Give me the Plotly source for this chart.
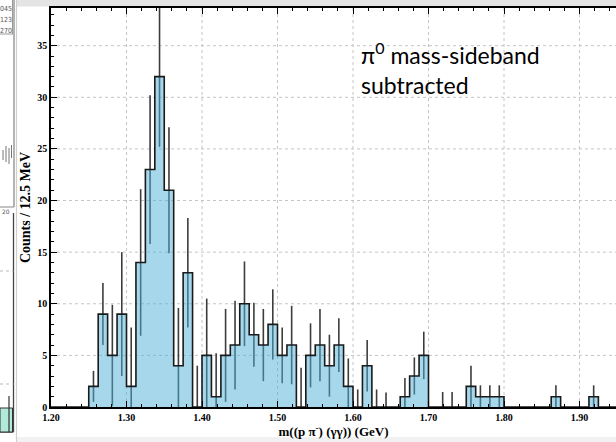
import plotly.graph_objects as go

# ---------------- data ----------------
bin_start = 1.20
bin_width = 0.0125
counts = [0, 0, 0, 0, 2, 9, 5, 9, 2, 14,
          23, 32, 21, 4, 13, 0, 5, 1, 5, 6,
          10, 7, 6, 8, 5, 6, 0, 5, 6, 4,
          6, 2, 0, 4, 0, 0, 0, 1, 3, 5,
          0, 0, 0, 0, 2, 1, 1, 1, 0, 0,
          0, 0, 0, 1, 0, 0, 0, 1, 0, 0]
errors = [0, 0, 0, 0, 1.5, 3.0, 4.9, 6.0, 5.7, 7.1,
          7.2, 6.8, 6.1, 5.6, 5.3, 4.0, 5.5, 4.2, 4.5, 4.3,
          4.1, 3.1, 3.5, 3.4, 2.7, 3.8, 3.8, 3.1, 3.5, 3.0,
          2.6, 2.7, 1.7, 2.5, 1.7, 1.4, 0, 1.8, 1.8, 2.3,
          0, 1.45, 1.45, 0, 2.0, 1.1, 1.1, 1.1, 0, 0,
          0, 0, 0, 1.1, 0, 0, 0, 1.1, 0, 0]
x_tick_vals = [1.2, 1.3, 1.4, 1.5, 1.6, 1.7, 1.8, 1.9]
x_tick_text = ["1.20", "1.30", "1.40", "1.50", "1.60", "1.70", "1.80", "1.90"]
y_tick_vals = [0, 5, 10, 15, 20, 25, 30, 35]
stats_text = ["045", "123", "270"]

n = len(counts)
edges = [bin_start + i * bin_width for i in range(n + 1)]
centers = [bin_start + (i + 0.5) * bin_width for i in range(n)]
step_y = counts + [counts[-1]]

# ---------------- geometry helpers (pixel -> paper) ----------------
W, H = 616, 442
ML, MR, MT, MB = 51, 0, 8, 35
PW, PH = W - ML - MR, H - MT - MB


def px(p):
    return (p - ML) / PW


def py(q):
    return (H - MB - q) / PH


serif_b = dict(family="Liberation Serif", color="black", weight="bold")
GRID = dict(color="#c4c4c4", width=1, dash="dot")

fig = go.Figure()

# error bars (drawn first so the translucent fill tints them)
fig.add_trace(go.Scatter(
    x=centers, y=counts, mode="markers",
    marker=dict(size=1, color="rgba(0,0,0,0)"),
    error_y=dict(type="data", array=errors, visible=True,
                 color="#3c3c3c", thickness=1.6, width=0),
    hoverinfo="skip", showlegend=False))

# filled histogram
fig.add_trace(go.Scatter(
    x=edges, y=step_y, mode="lines", line_shape="hv",
    line=dict(width=0, color="rgba(0,0,0,0)"),
    fill="tozeroy", fillcolor="rgba(77,175,215,0.5)",
    hoverinfo="skip", showlegend=False))

# histogram outline
fig.add_trace(go.Scatter(
    x=edges, y=step_y, mode="lines", line_shape="hv",
    line=dict(width=1.6, color="#1a1a1a"),
    hoverinfo="skip", showlegend=False))

shapes = []
# dotted grid at major ticks only
for xv in x_tick_vals[1:]:
    shapes.append(dict(type="line", xref="x", yref="paper", x0=xv, x1=xv,
                       y0=0, y1=1, line=GRID, layer="below"))
for yv in y_tick_vals[1:]:
    shapes.append(dict(type="line", xref="paper", yref="y", x0=0, x1=1,
                       y0=yv, y1=yv, line=GRID, layer="below"))
# top grey band of the slide window
shapes.append(dict(type="rect", xref="paper", yref="paper",
                   x0=px(17), x1=px(616), y0=py(0), y1=py(6.5),
                   fillcolor="#e4e4e4", line=dict(width=0), layer="below"))
# bottom faint band
shapes.append(dict(type="rect", xref="paper", yref="paper",
                   x0=px(17), x1=px(616), y0=py(437), y1=py(442),
                   fillcolor="#f1f1f1", line=dict(width=0), layer="below"))
# separator between panels
shapes.append(dict(type="line", xref="paper", yref="paper",
                   x0=px(16.5), x1=px(16.5), y0=py(0), y1=py(442),
                   line=dict(color="#cfcfcf", width=1.2)))
# left-top panel frame and stats box
shapes.append(dict(type="line", xref="paper", yref="paper",
                   x0=px(14), x1=px(14), y0=py(0), y1=py(207),
                   line=dict(color="#9a9a9a", width=1.5)))
shapes.append(dict(type="line", xref="paper", yref="paper",
                   x0=px(0), x1=px(14), y0=py(207), y1=py(207),
                   line=dict(color="#9a9a9a", width=1.2)))
shapes.append(dict(type="line", xref="paper", yref="paper",
                   x0=px(0), x1=px(13), y0=py(34), y1=py(34),
                   line=dict(color="#9a9a9a", width=1)))
shapes.append(dict(type="line", xref="paper", yref="paper",
                   x0=px(12.5), x1=px(12.5), y0=py(0), y1=py(34),
                   line=dict(color="#9a9a9a", width=1)))
# faint data marks inside left-top panel
for xm, y0m, y1m in [(3, 150, 160), (6, 146, 162), (9, 148, 164), (11.5, 145, 158)]:
    shapes.append(dict(type="line", xref="paper", yref="paper",
                       x0=px(xm), x1=px(xm), y0=py(y0m), y1=py(y1m),
                       line=dict(color="#777777", width=1)))
# left-bottom panel frame
shapes.append(dict(type="line", xref="paper", yref="paper",
                   x0=px(13.5), x1=px(13.5), y0=py(213), y1=py(432),
                   line=dict(color="#444444", width=1.3)))
shapes.append(dict(type="line", xref="paper", yref="paper",
                   x0=px(0), x1=px(13.5), y0=py(432), y1=py(432),
                   line=dict(color="#444444", width=1.3)))
for gy in [271, 384]:
    shapes.append(dict(type="line", xref="paper", yref="paper",
                       x0=px(0), x1=px(13.5), y0=py(gy), y1=py(gy),
                       line=dict(color="#bbbbbb", width=1, dash="dot")))
shapes.append(dict(type="rect", xref="paper", yref="paper",
                   x0=px(0), x1=px(12.5), y0=py(432), y1=py(408),
                   fillcolor="#b2ead9", line=dict(color="#333333", width=1)))
shapes.append(dict(type="line", xref="paper", yref="paper",
                   x0=px(9), x1=px(9), y0=py(396), y1=py(432),
                   line=dict(color="#333333", width=1.2)))

annotations = []
for i, t in enumerate(stats_text):
    annotations.append(dict(text=t, xref="paper", yref="paper",
                            x=px(12.5), y=py(9 + 11 * i), xanchor="right", yanchor="middle",
                            showarrow=False, borderpad=0,
                            font=dict(family="DejaVu Sans Condensed", size=7, color="#555555")))
annotations.append(dict(text="20", xref="paper", yref="paper",
                        x=px(6), y=py(211), xanchor="center", yanchor="middle",
                        showarrow=False,
                        font=dict(family="DejaVu Sans", size=6, color="#555555")))
# slide text
annotations.append(dict(text="π<sup>0</sup> mass-sideband<br>subtracted",
                        xref="paper", yref="paper", x=px(359), y=py(36),
                        xanchor="left", yanchor="top", align="left", showarrow=False,
                        font=dict(family="Lato", size=23, color="black")))

fig.update_layout(
    template="none",
    width=W, height=H,
    margin=dict(l=ML, r=MR, t=MT, b=MB, pad=0),
    paper_bgcolor="white", plot_bgcolor="white",
    shapes=shapes, annotations=annotations, showlegend=False,
)

fig.update_xaxes(
    range=[bin_start, bin_start + PW / 755.0],
    tickvals=x_tick_vals, ticktext=x_tick_text,
    ticks="inside", ticklen=6, tickwidth=1, tickcolor="black",
    minor=dict(tickmode="linear", tick0=bin_start, dtick=0.02, ticks="inside",
               ticklen=3, tickwidth=1, tickcolor="black", showgrid=False),
    showline=True, linecolor="black", linewidth=1.5, mirror="ticks",
    showgrid=False, zeroline=False,
    tickfont=dict(size=10, **serif_b),
    title=dict(text="m((p π<sup>-</sup>) (γγ)) (GeV)", standoff=3,
               font=dict(size=13, **serif_b)),
)
fig.update_yaxes(
    range=[0, 38.65],
    tickvals=y_tick_vals,
    ticks="inside", ticklen=6, tickwidth=1, tickcolor="black",
    minor=dict(tickmode="linear", tick0=0, dtick=1, ticks="inside",
               ticklen=3, tickwidth=1, tickcolor="black", showgrid=False),
    showline=True, linecolor="black", linewidth=1.5, mirror=False,
    showgrid=False, zeroline=False,
    tickfont=dict(size=10, **serif_b),
    title=dict(text="Counts / 12.5 MeV", standoff=3,
               font=dict(size=14, **serif_b)),
)

fig.write_html("out.html")
